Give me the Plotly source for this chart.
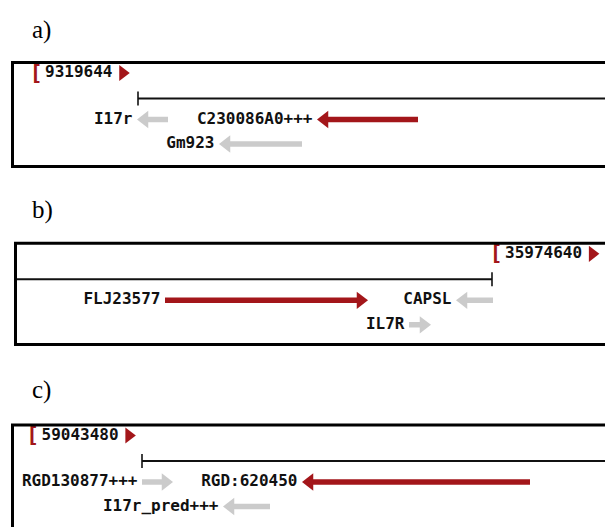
import plotly.graph_objects as go

FIG_W, FIG_H = 605, 527
KB_PER_PX = 0.1          # every view spans 0..60.5 kb across the page
X_RANGE = [0, 60.5]

# ---------------- data ----------------
view_tags = ["a)", "b)", "c)"]
view_start_labels = ["9319644", "35974640", "59043480"]
view_start_marks = [3.6, 49.6, 3.25]          # kb

ruler_from = [13.8, 1.5, 14.2]                # kb
ruler_to = [62.0, 49.2, 62.0]
ruler_cap = ["from", "to", "from"]

genes_a_name = ["I17r", "C230086A0+++", "Gm923"]
genes_a_left = [13.7, 31.7, 21.9]
genes_a_right = [16.8, 41.8, 30.2]
genes_a_strand = ["-", "-", "-"]
genes_a_row = [1, 1, 2]
genes_a_hit = [False, True, False]

genes_b_name = ["FLJ23577", "CAPSL", "IL7R"]
genes_b_left = [16.5, 45.6, 40.9]
genes_b_right = [36.8, 49.3, 43.1]
genes_b_strand = ["+", "-", "+"]
genes_b_row = [1, 1, 2]
genes_b_hit = [True, False, False]

genes_c_name = ["RGD130877+++", "RGD:620450", "I17r_pred+++"]
genes_c_left = [14.2, 30.2, 22.3]
genes_c_right = [17.3, 53.0, 27.0]
genes_c_strand = ["+", "-", "-"]
genes_c_row = [1, 1, 2]
genes_c_hit = [False, True, False]

genes = [
    (genes_a_name, genes_a_left, genes_a_right, genes_a_strand, genes_a_row, genes_a_hit),
    (genes_b_name, genes_b_left, genes_b_right, genes_b_strand, genes_b_row, genes_b_hit),
    (genes_c_name, genes_c_left, genes_c_right, genes_c_strand, genes_c_row, genes_c_hit),
]

# ---------------- style ----------------
RED = "#a3161a"
GREY = "#cbcbcb"
INK = "#111111"
MONO = "DejaVu Sans Mono"
SERIF = "Liberation Serif"
FONT_PX = 16
CHAR_W = 0.602 * FONT_PX          # monospace advance in px
HEAD = 15                         # arrow head marker size
SHAFT = 5.5

box_top = [62.5, 243.3, 425.0]    # frame edges, px from page top
box_bottom = [166.5, 344.5, 530.0]
box_left = [12.5, 15.5, 12.5]
tag_y = [30, 210, 390]

LANE_LABEL = 10.5                 # lanes, px below the frame top
LANE_RULER = 36
LANE_ROW = {1: 57, 2: 81.5}

fig = go.Figure()
layout_axes = {}
shapes = []
annotations = []

for i in range(3):
    n = "" if i == 0 else str(i + 1)
    xa, ya = "x" + n, "y" + n
    top, bot = box_top[i], min(box_bottom[i], FIG_H)
    layout_axes["xaxis" + n] = dict(domain=[0, 1], range=X_RANGE, visible=False,
                                    fixedrange=True, anchor=ya)
    layout_axes["yaxis" + n] = dict(domain=[1 - bot / FIG_H, 1 - top / FIG_H],
                                    range=[bot - top, 0], visible=False,
                                    fixedrange=True, anchor=xa)

    # frame around the view (open on the right where it runs off the page)
    shapes.append(dict(type="rect", xref="paper", yref="paper",
                       x0=box_left[i] / FIG_W, x1=1.1,
                       y0=1 - box_bottom[i] / FIG_H, y1=1 - box_top[i] / FIG_H,
                       line=dict(color="black", width=3), fillcolor="rgba(0,0,0,0)"))

    annotations.append(dict(text=view_tags[i], xref="paper", yref="paper",
                            x=30 / FIG_W, y=1 - tag_y[i] / FIG_H,
                            xanchor="left", yanchor="middle", showarrow=False,
                            font=dict(family=SERIF, size=25, color="black")))

    # scale ruler
    fig.add_trace(go.Scatter(x=[ruler_from[i], ruler_to[i]], y=[LANE_RULER] * 2,
                             mode="lines", line=dict(color=INK, width=2),
                             xaxis=xa, yaxis=ya, hoverinfo="skip"))
    cap_x = ruler_from[i] if ruler_cap[i] == "from" else ruler_to[i]
    fig.add_trace(go.Scatter(x=[cap_x], y=[LANE_RULER], mode="markers",
                             marker=dict(symbol="line-ns", size=10,
                                         line=dict(color=INK, width=1.6)),
                             xaxis=xa, yaxis=ya, hoverinfo="skip"))

    # window start label: [ number >
    mark = view_start_marks[i]
    label = view_start_labels[i]
    num_x = mark + 0.9
    tri_x = num_x + (len(label) * CHAR_W + 7 + 3.3) * KB_PER_PX
    fig.add_trace(go.Scatter(x=[mark], y=[LANE_LABEL + 1], mode="text", text=["["],
                             textposition="middle center",
                             textfont=dict(family=MONO, size=22, color=RED, weight="bold"),
                             xaxis=xa, yaxis=ya, hoverinfo="skip"))
    fig.add_trace(go.Scatter(x=[num_x], y=[LANE_LABEL], mode="text", text=[label],
                             textposition="middle right",
                             textfont=dict(family=MONO, size=FONT_PX, color=INK, weight="bold"),
                             xaxis=xa, yaxis=ya, hoverinfo="skip"))
    fig.add_trace(go.Scatter(x=[tri_x], y=[LANE_LABEL], mode="markers",
                             marker=dict(symbol="triangle-right", size=14, color=RED),
                             xaxis=xa, yaxis=ya, hoverinfo="skip"))

    # genes: shaft, head, name
    names, lefts, rights, strands, rows, hits = genes[i]
    r_units = HEAD / 2 * KB_PER_PX
    for name, lft, rgt, strand, row, hit in zip(names, lefts, rights, strands, rows, hits):
        col = RED if hit else GREY
        y = LANE_ROW[row]
        if strand == "-":
            shaft_x = [rgt, lft + 0.8]
            head_x, sym = lft + r_units, "triangle-left"
        else:
            shaft_x = [lft, rgt - 0.8]
            head_x, sym = rgt - r_units, "triangle-right"
        fig.add_trace(go.Scatter(x=shaft_x, y=[y, y], mode="lines",
                                 line=dict(color=col, width=SHAFT),
                                 xaxis=xa, yaxis=ya, hoverinfo="skip"))
        fig.add_trace(go.Scatter(x=[head_x], y=[y], mode="markers",
                                 marker=dict(symbol=sym, size=HEAD, color=col),
                                 xaxis=xa, yaxis=ya, hoverinfo="skip"))
        fig.add_trace(go.Scatter(x=[lft - 0.45], y=[y], mode="text", text=[name],
                                 textposition="middle left",
                                 textfont=dict(family=MONO, size=FONT_PX, color=INK,
                                               weight="bold"),
                                 xaxis=xa, yaxis=ya, hoverinfo="skip"))

fig.update_layout(width=FIG_W, height=FIG_H, margin=dict(l=0, r=0, t=0, b=0),
                  paper_bgcolor="white", plot_bgcolor="white", showlegend=False,
                  shapes=shapes, annotations=annotations, **layout_axes)

fig.write_html("out.html", config={"displayModeBar": False})
